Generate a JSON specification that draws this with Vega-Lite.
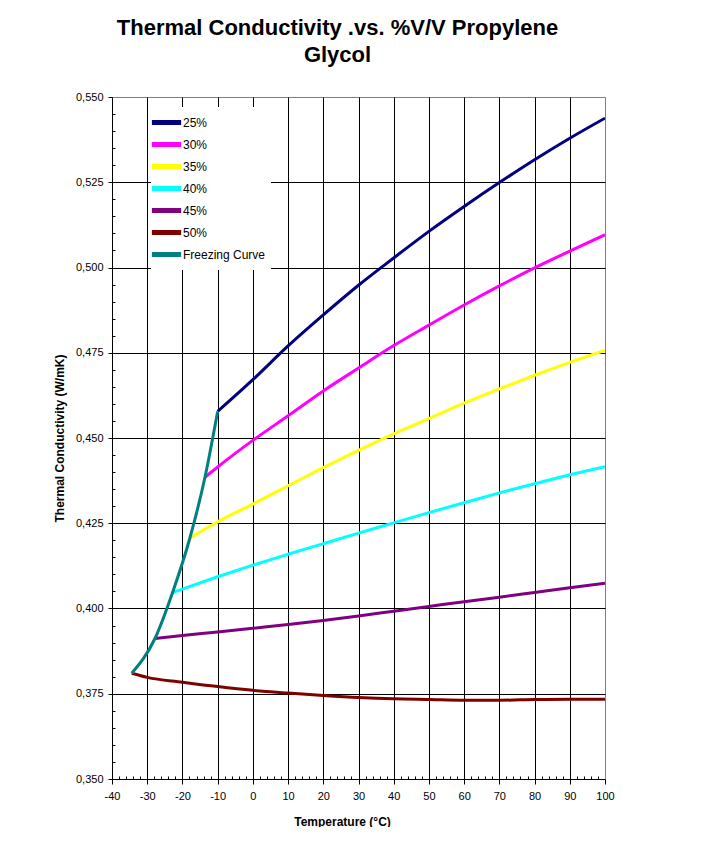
{
  "$schema": "https://vega.github.io/schema/vega-lite/v6.json",
  "width": 493,
  "height": 682,
  "padding": {"left": 53, "top": 17, "right": 0, "bottom": 0},
  "background": "#ffffff",
  "title": {
    "text": ["Thermal Conductivity .vs. %V/V Propylene", "Glycol"],
    "font": "Liberation Sans",
    "fontSize": 22,
    "fontWeight": "bold",
    "lineHeight": 27,
    "color": "#000000",
    "dx": -21,
    "offset": 24
  },
  "config": {
    "view": {"stroke": "#808080", "strokeWidth": 1},
    "axis": {
      "labelFont": "Liberation Sans",
      "labelFontSize": 11,
      "labelColor": "#000000",
      "titleFont": "Liberation Sans",
      "titleFontSize": 12,
      "titleFontWeight": "bold",
      "titleColor": "#000000",
      "domainColor": "#000000",
      "tickColor": "#000000",
      "gridColor": "#000000",
      "gridWidth": 1
    },
    "legend": {
      "labelFont": "Liberation Sans",
      "labelFontSize": 12,
      "labelColor": "#000000"
    }
  },
  "data": {
    "values": [
      {"series": "25%", "t": -10, "k": 0.4578},
      {"series": "25%", "t": 0, "k": 0.4671},
      {"series": "25%", "t": 10, "k": 0.4770},
      {"series": "25%", "t": 20, "k": 0.4861},
      {"series": "25%", "t": 30, "k": 0.4948},
      {"series": "25%", "t": 40, "k": 0.5028},
      {"series": "25%", "t": 50, "k": 0.5106},
      {"series": "25%", "t": 60, "k": 0.5179},
      {"series": "25%", "t": 70, "k": 0.5249},
      {"series": "25%", "t": 80, "k": 0.5316},
      {"series": "25%", "t": 90, "k": 0.5379},
      {"series": "25%", "t": 100, "k": 0.5438},
      {"series": "30%", "t": -13.6, "k": 0.4385},
      {"series": "30%", "t": -10, "k": 0.4415},
      {"series": "30%", "t": 0, "k": 0.4493},
      {"series": "30%", "t": 10, "k": 0.4565},
      {"series": "30%", "t": 20, "k": 0.4638},
      {"series": "30%", "t": 30, "k": 0.4705},
      {"series": "30%", "t": 40, "k": 0.4771},
      {"series": "30%", "t": 50, "k": 0.4831},
      {"series": "30%", "t": 60, "k": 0.4890},
      {"series": "30%", "t": 70, "k": 0.4946},
      {"series": "30%", "t": 80, "k": 0.4999},
      {"series": "30%", "t": 90, "k": 0.5048},
      {"series": "30%", "t": 100, "k": 0.5096},
      {"series": "35%", "t": -17.9, "k": 0.4206},
      {"series": "35%", "t": -10, "k": 0.4254},
      {"series": "35%", "t": 0, "k": 0.4306},
      {"series": "35%", "t": 10, "k": 0.4360},
      {"series": "35%", "t": 20, "k": 0.4413},
      {"series": "35%", "t": 30, "k": 0.4464},
      {"series": "35%", "t": 40, "k": 0.4512},
      {"series": "35%", "t": 50, "k": 0.4557},
      {"series": "35%", "t": 60, "k": 0.4602},
      {"series": "35%", "t": 70, "k": 0.4644},
      {"series": "35%", "t": 80, "k": 0.4684},
      {"series": "35%", "t": 90, "k": 0.4722},
      {"series": "35%", "t": 100, "k": 0.4757},
      {"series": "40%", "t": -22.8, "k": 0.4047},
      {"series": "40%", "t": -20, "k": 0.4057},
      {"series": "40%", "t": -10, "k": 0.4093},
      {"series": "40%", "t": 0, "k": 0.4127},
      {"series": "40%", "t": 10, "k": 0.4159},
      {"series": "40%", "t": 20, "k": 0.4190},
      {"series": "40%", "t": 30, "k": 0.4221},
      {"series": "40%", "t": 40, "k": 0.4251},
      {"series": "40%", "t": 50, "k": 0.4281},
      {"series": "40%", "t": 60, "k": 0.4310},
      {"series": "40%", "t": 70, "k": 0.4339},
      {"series": "40%", "t": 80, "k": 0.4366},
      {"series": "40%", "t": 90, "k": 0.4392},
      {"series": "40%", "t": 100, "k": 0.4416},
      {"series": "45%", "t": -27.8, "k": 0.3912},
      {"series": "45%", "t": -20, "k": 0.3921},
      {"series": "45%", "t": -10, "k": 0.3931},
      {"series": "45%", "t": 0, "k": 0.3942},
      {"series": "45%", "t": 10, "k": 0.3953},
      {"series": "45%", "t": 20, "k": 0.3965},
      {"series": "45%", "t": 30, "k": 0.3978},
      {"series": "45%", "t": 40, "k": 0.3992},
      {"series": "45%", "t": 50, "k": 0.4006},
      {"series": "45%", "t": 60, "k": 0.4020},
      {"series": "45%", "t": 70, "k": 0.4033},
      {"series": "45%", "t": 80, "k": 0.4047},
      {"series": "45%", "t": 90, "k": 0.4061},
      {"series": "45%", "t": 100, "k": 0.4074},
      {"series": "50%", "t": -34.4, "k": 0.3810},
      {"series": "50%", "t": -30, "k": 0.3798},
      {"series": "50%", "t": -20, "k": 0.3784},
      {"series": "50%", "t": -10, "k": 0.3771},
      {"series": "50%", "t": 0, "k": 0.3760},
      {"series": "50%", "t": 10, "k": 0.3752},
      {"series": "50%", "t": 20, "k": 0.3745},
      {"series": "50%", "t": 30, "k": 0.3739},
      {"series": "50%", "t": 40, "k": 0.3735},
      {"series": "50%", "t": 50, "k": 0.3733},
      {"series": "50%", "t": 60, "k": 0.3731},
      {"series": "50%", "t": 70, "k": 0.3731},
      {"series": "50%", "t": 80, "k": 0.3733},
      {"series": "50%", "t": 90, "k": 0.3734},
      {"series": "50%", "t": 100, "k": 0.3734},
      {"series": "Freezing Curve", "t": -34.4, "k": 0.3810},
      {"series": "Freezing Curve", "t": -27.8, "k": 0.3912},
      {"series": "Freezing Curve", "t": -22.8, "k": 0.4047},
      {"series": "Freezing Curve", "t": -17.9, "k": 0.4206},
      {"series": "Freezing Curve", "t": -13.6, "k": 0.4385},
      {"series": "Freezing Curve", "t": -10, "k": 0.4578}
    ]
  },
  "mark": {"type": "line", "strokeWidth": 3, "interpolate": "monotone", "clip": true},
  "encoding": {
    "x": {
      "field": "t",
      "type": "quantitative",
      "scale": {"domain": [-40, 100], "nice": false, "zero": false},
      "axis": {
        "title": "Temperature (°C)",
        "titleX": 230,
        "titlePadding": 15,
        "values": [-40, -38, -36, -34, -32, -30, -28, -26, -24, -22, -20, -18, -16, -14, -12, -10, -8, -6, -4, -2, 0, 2, 4, 6, 8, 10, 12, 14, 16, 18, 20, 22, 24, 26, 28, 30, 32, 34, 36, 38, 40, 42, 44, 46, 48, 50, 52, 54, 56, 58, 60, 62, 64, 66, 68, 70, 72, 74, 76, 78, 80, 82, 84, 86, 88, 90, 92, 94, 96, 98, 100],
        "labelExpr": "datum.value % 10 == 0 ? replace(datum.label, '−', '-') : ''",
        "labelPadding": 6,
        "labelFlush": false,
        "labelOverlap": false,
        "grid": true,
        "gridOpacity": {"condition": {"test": "datum.value % 10 == 0 && datum.value > -40 && datum.value < 100", "value": 1}, "value": 0},
        "tickSize": {"condition": {"test": "datum.value % 10 == 0", "value": 5}, "value": -3}
      }
    },
    "y": {
      "field": "k",
      "type": "quantitative",
      "scale": {"domain": [0.35, 0.55], "nice": false, "zero": false},
      "axis": {
        "title": "Thermal Conductivity (W/mK)",
        "titlePadding": 9,
        "values": [0.35, 0.355, 0.36, 0.365, 0.37, 0.375, 0.38, 0.385, 0.39, 0.395, 0.4, 0.405, 0.41, 0.415, 0.42, 0.425, 0.43, 0.435, 0.44, 0.445, 0.45, 0.455, 0.46, 0.465, 0.47, 0.475, 0.48, 0.485, 0.49, 0.495, 0.5, 0.505, 0.51, 0.515, 0.52, 0.525, 0.53, 0.535, 0.54, 0.545, 0.55],
        "labelExpr": "abs(datum.value * 40 - round(datum.value * 40)) < 0.001 ? replace(format(datum.value, '.3f'), '.', ',') : ''",
        "labelPadding": 5,
        "labelOverlap": false,
        "labelFlush": false,
        "grid": true,
        "gridOpacity": {"condition": {"test": "abs(datum.value * 40 - round(datum.value * 40)) < 0.001 && datum.value > 0.351 && datum.value < 0.549", "value": 1}, "value": 0},
        "tickSize": {"condition": {"test": "abs(datum.value * 40 - round(datum.value * 40)) < 0.001", "value": 4}, "value": -3}
      }
    },
    "color": {
      "field": "series",
      "type": "nominal",
      "scale": {
        "domain": ["25%", "30%", "35%", "40%", "45%", "50%", "Freezing Curve"],
        "range": ["#000080", "#ff00ff", "#ffff00", "#00ffff", "#800080", "#800000", "#008080"]
      },
      "legend": {
        "title": null,
        "orient": "none",
        "legendX": 39,
        "legendY": 10,
        "fillColor": "#ffffff",
        "padding": 5,
        "symbolType": "M-1.85,0H1.85",
        "symbolStrokeWidth": 5,
        "symbolSize": 250,
        "labelOffset": 6,
        "rowPadding": 1
      }
    }
  }
}
